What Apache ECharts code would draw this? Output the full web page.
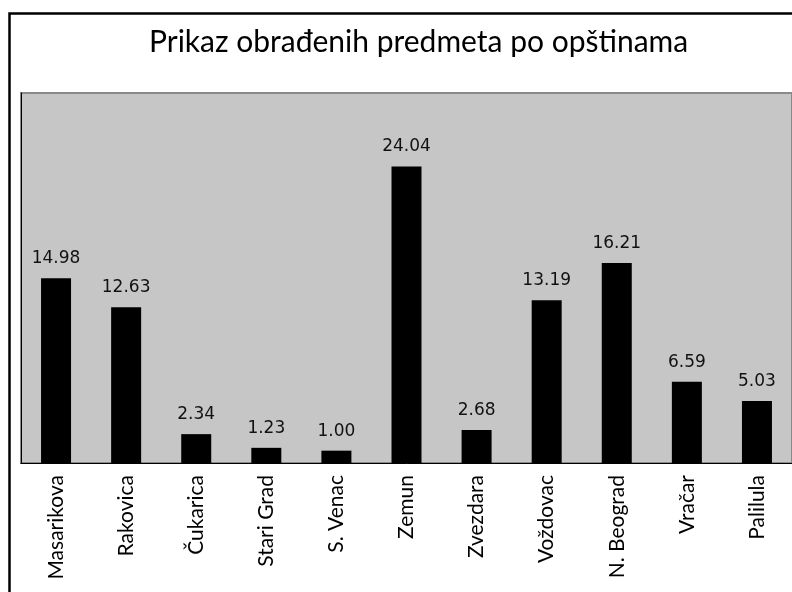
<!DOCTYPE html>
<html>
<head>
<meta charset="utf-8">
<script src="https://cdn.jsdelivr.net/npm/echarts@6/dist/echarts.min.js"></script>
<style>
  html, body { margin: 0; padding: 0; background: #fff; }
  #chart { width: 792px; height: 592px; }
</style>
</head>
<body>
<div id="chart"></div>
<script>
var opstine = ['Masarikova', 'Rakovica', 'Čukarica', 'Stari Grad', 'S. Venac', 'Zemun',
    'Zvezdara', 'Voždovac', 'N. Beograd', 'Vračar', 'Palilula'];
var vrednosti = [14.98, 12.63, 2.34, 1.23, 1.00, 24.04, 2.68, 13.19, 16.21, 6.59, 5.03];
var naslov = 'Prikaz obrađenih predmeta po opštinama';

var myChart = echarts.init(document.getElementById('chart'));

option = {
    animation: false,
    backgroundColor: '#fff',
    title: {
        text: naslov,
        left: 144,
        top: 22,
        textStyle: {
            fontFamily: 'Lato',
            fontWeight: 'normal',
            fontSize: 30,
            color: '#000'
        }
    },
    graphic: [{
        type: 'rect',
        shape: { x: 9.5, y: 13.5, width: 900, height: 700 },
        style: { fill: 'none', stroke: '#000', lineWidth: 2.5 },
        z: 100
    }],
    grid: {
        left: 21,
        top: 93,
        right: -1,
        bottom: 129,
        show: true,
        backgroundColor: '#c6c6c6',
        borderColor: '#8a8a8a',
        borderWidth: 2
    },
    xAxis: {
        type: 'category',
        data: opstine,
        axisLine: { lineStyle: { color: '#000', width: 1 } },
        axisTick: { length: 8, lineStyle: { color: '#000' } },
        axisLabel: {
            rotate: 90,
            interval: 0,
            margin: 12,
            fontFamily: 'Lato',
            fontSize: 21,
            color: '#000'
        }
    },
    yAxis: {
        type: 'value',
        min: 0,
        max: 30,
        axisLine: { show: true, lineStyle: { color: '#000', width: 1 } },
        axisTick: { show: false },
        axisLabel: { show: false },
        splitLine: { show: false }
    },
    series: [{
        type: 'bar',
        data: vrednosti,
        barWidth: 30,
        itemStyle: { color: '#000' },
        label: {
            show: true,
            position: 'top',
            distance: 11,
            fontFamily: 'DejaVu Sans',
            fontSize: 17,
            color: '#111',
            formatter: function (p) { return p.value.toFixed(2); }
        }
    }]
};

myChart.setOption(option);
</script>
</body>
</html>
